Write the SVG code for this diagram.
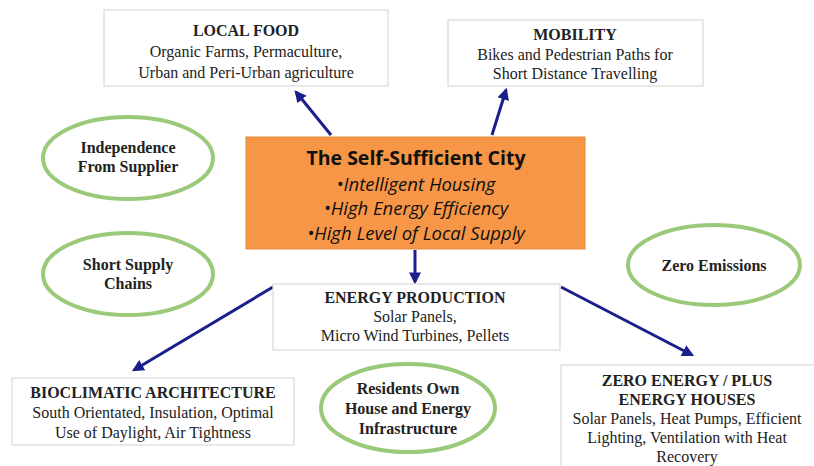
<svg xmlns="http://www.w3.org/2000/svg" width="814" height="466" viewBox="0 0 814 466">
<defs>
<style>
.box{fill:#fff;stroke:#d9d9d9;stroke-width:1.2}
.ell{fill:#fff;stroke:#9bc97a;stroke-width:4}
.t{font-family:'Liberation Serif','DejaVu Serif',serif;font-size:16px;fill:#222;text-anchor:middle}
.b{font-weight:bold}
.c{font-family:'Open Sans','Liberation Sans',sans-serif;text-anchor:middle;fill:#111}
.arr{stroke:#1a1f8c;stroke-width:3;fill:none;marker-end:url(#ah)}
</style>
<marker id="ah" viewBox="0 0 10 10" refX="8" refY="5" markerWidth="4" markerHeight="4" orient="auto" markerUnits="strokeWidth">
<path d="M0,0 L10,5 L0,10 z" fill="#1a1f8c"/>
</marker>
</defs>
<rect width="814" height="466" fill="#fff"/>
<g id="connectors">
<line class="arr" x1="331" y1="135" x2="296" y2="92"/>
<line class="arr" x1="492" y1="135" x2="506" y2="90"/>
<line class="arr" x1="415" y1="250" x2="415" y2="282"/>
<line class="arr" x1="273" y1="287" x2="134" y2="370"/>
<line class="arr" x1="561" y1="287" x2="692" y2="355"/>
</g>
<g id="local-food">
<rect class="box" x="104" y="10" width="284" height="76"/>
<text class="t b" x="246" y="36">LOCAL FOOD</text>
<text class="t" x="246" y="57">Organic Farms, Permaculture,</text>
<text class="t" x="246" y="78">Urban and Peri-Urban agriculture</text>
</g>
<g id="mobility">
<rect class="box" x="448" y="20" width="255" height="66"/>
<text class="t b" x="575" y="40">MOBILITY</text>
<text class="t" x="575" y="60">Bikes and Pedestrian Paths for</text>
<text class="t" x="575" y="79">Short Distance Travelling</text>
</g>
<g id="center">
<rect x="246" y="137" width="339" height="112" fill="#f79646" stroke="#e08a3c" stroke-width="1"/>
<text class="c" x="416" y="165" font-size="19.5" font-weight="bold">The Self-Sufficient City</text>
<text class="c" x="416" y="191" font-size="18.5" font-style="italic">•Intelligent Housing</text>
<text class="c" x="416" y="215" font-size="18.5" font-style="italic">•High Energy Efficiency</text>
<text class="c" x="416" y="240" font-size="18.5" font-style="italic">•High Level of Local Supply</text>
</g>
<g id="independence">
<ellipse class="ell" cx="128" cy="158" rx="85" ry="41"/>
<text class="t b" x="128" y="153">Independence</text>
<text class="t b" x="128" y="172">From Supplier</text>
</g>
<g id="short-supply">
<ellipse class="ell" cx="128" cy="274" rx="85" ry="41"/>
<text class="t b" x="128" y="270">Short Supply</text>
<text class="t b" x="128" y="289">Chains</text>
</g>
<g id="zero-emissions">
<ellipse class="ell" cx="714" cy="265" rx="86" ry="40"/>
<text class="t b" x="714" y="271">Zero Emissions</text>
</g>
<g id="energy-production">
<rect class="box" x="273" y="284" width="287" height="66"/>
<text class="t b" x="415" y="303">ENERGY PRODUCTION</text>
<text class="t" x="415" y="322">Solar Panels,</text>
<text class="t" x="415" y="341">Micro Wind Turbines, Pellets</text>
</g>
<g id="residents">
<ellipse class="ell" cx="408" cy="408" rx="87" ry="44"/>
<text class="t b" x="408" y="394">Residents Own</text>
<text class="t b" x="408" y="414">House and Energy</text>
<text class="t b" x="408" y="434">Infrastructure</text>
</g>
<g id="bioclimatic">
<rect class="box" x="12" y="378" width="282" height="67"/>
<text class="t b" x="153" y="398">BIOCLIMATIC ARCHITECTURE</text>
<text class="t" x="153" y="418">South Orientated, Insulation, Optimal</text>
<text class="t" x="153" y="438">Use of Daylight, Air Tightness</text>
</g>
<g id="zero-energy">
<rect class="box" x="561" y="365" width="260" height="110"/>
<text class="t b" x="687" y="386">ZERO ENERGY / PLUS</text>
<text class="t b" x="687" y="405">ENERGY HOUSES</text>
<text class="t" x="687" y="424">Solar Panels, Heat Pumps, Efficient</text>
<text class="t" x="687" y="443">Lighting, Ventilation with Heat</text>
<text class="t" x="687" y="462">Recovery</text>
</g>
</svg>
